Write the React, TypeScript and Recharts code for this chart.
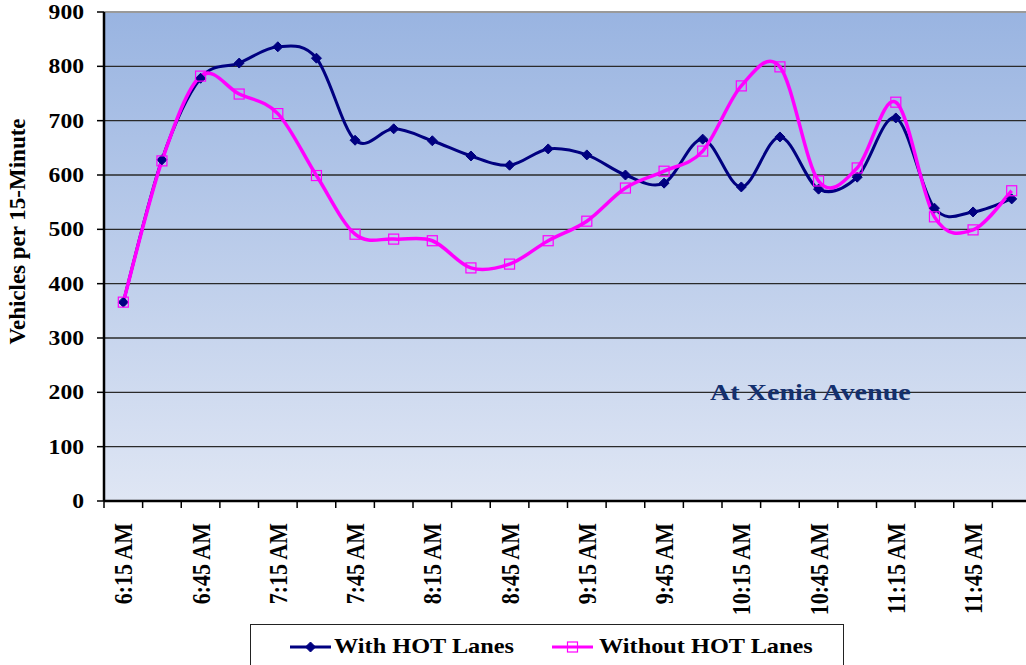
import React from 'react';
import { LineChart, Line, XAxis, YAxis, CartesianGrid, Legend, Label } from 'recharts';

const categories = ['6:15 AM','6:30 AM','6:45 AM','7:00 AM','7:15 AM','7:30 AM','7:45 AM','8:00 AM','8:15 AM','8:30 AM','8:45 AM','9:00 AM','9:15 AM','9:30 AM','9:45 AM','10:00 AM','10:15 AM','10:30 AM','10:45 AM','11:00 AM','11:15 AM','11:30 AM','11:45 AM','12:00 PM'];
const withHot = [366, 628, 778, 806, 836, 815, 664, 685, 663, 635, 618, 648, 637, 600, 585, 666, 578, 670, 574, 596, 705, 539, 532, 556];
const withoutHot = [366, 626, 782, 749, 713, 599, 491, 482, 479, 429, 436, 479, 515, 576, 607, 644, 764, 799, 589, 613, 734, 523, 499, 571];
const yTicks = [0, 100, 200, 300, 400, 500, 600, 700, 800, 900];
const seriesNames = ['With HOT Lanes', 'Without HOT Lanes'];
const annotation = 'At Xenia Avenue';
const yTitle = 'Vehicles per 15-Minute';

const data = categories.map((c, i) => ({ t: c, a: withHot[i], b: withoutHot[i] }));

const CHART_W = 1031;
const CHART_H = 665;
const M = { top: 12, right: 0, left: 0, bottom: 0 };
const Y_W = 104;
const X_H = 164;
const BAND = (CHART_W - M.left - M.right - Y_W) / categories.length;
const SERIF = '"Liberation Serif", "Times New Roman", Times, serif';
const NAVY = '#000080';
const MAGENTA = '#FF00FF';
const SX = 1.18;

// Excel-like smoothed curve (Catmull-Rom via cubic Bezier)
const excelCurve: any = (context: any) => {
  let xs: number[] = [];
  let ys: number[] = [];
  return {
    areaStart() {},
    areaEnd() {},
    lineStart() { xs = []; ys = []; },
    point(x: number, y: number) { xs.push(+x); ys.push(+y); },
    lineEnd() {
      const n = xs.length;
      if (!n) return;
      context.moveTo(xs[0], ys[0]);
      for (let i = 0; i < n - 1; i++) {
        const i0 = Math.max(0, i - 1);
        const i3 = Math.min(n - 1, i + 2);
        const c1x = xs[i] + (xs[i + 1] - xs[i0]) / 6;
        const c1y = ys[i] + (ys[i + 1] - ys[i0]) / 6;
        const c2x = xs[i + 1] - (xs[i3] - xs[i]) / 6;
        const c2y = ys[i + 1] - (ys[i3] - ys[i]) / 6;
        context.bezierCurveTo(c1x, c1y, c2x, c2y, xs[i + 1], ys[i + 1]);
      }
    },
  };
};

const Diamond = ({ cx, cy, r = 5, fill = NAVY }: any) => (
  <polygon points={`${cx},${cy - r} ${cx + r},${cy} ${cx},${cy + r} ${cx - r},${cy}`} fill={fill} stroke={fill} strokeWidth={1} />
);
const Square = ({ cx, cy, s = 10 }: any) => (
  <rect x={cx - s / 2} y={cy - s / 2} width={s} height={s} fill="none" stroke={MAGENTA} strokeWidth={1.2} />
);

const YTick = (props: any) => {
  const { x, y, payload } = props;
  return (
    <g transform={`translate(${x},${y}) scale(${SX},1)`}>
      <text x={0} y={0} dy="0.35em" textAnchor="end" fontFamily={SERIF} fontWeight="bold" fontSize={20} fill="#000">
        {payload.value}
      </text>
    </g>
  );
};

const XTick = (props: any) => {
  const { x, payload } = props;
  const top = CHART_H - X_H;
  return (
    <g>
      <line x1={x - BAND / 2} x2={x - BAND / 2} y1={top} y2={top + 7} stroke="#000" strokeWidth={1.5} />
      <line x1={x + BAND / 2} x2={x + BAND / 2} y1={top} y2={top + 7} stroke="#000" strokeWidth={1.5} />
      <g transform={`translate(${x},${top + 22}) scale(${SX},1) rotate(-90)`}>
        <text x={0} y={0} dy="0.35em" textAnchor="end" fontFamily={SERIF} fontWeight="bold" fontSize={22} fill="#000">
          {payload.value}
        </text>
      </g>
    </g>
  );
};

const gridLine = (props: any) => {
  const { x1, x2, y1, y2, index } = props;
  const isTop = y1 < M.top + 3;
  return (
    <line key={`h-${index}`} x1={x1} x2={x2} y1={y1} y2={y2} stroke={isTop ? '#9a9a9a' : '#2a2a2a'} strokeWidth={isTop ? 2 : 1.3} />
  );
};

const legendText: React.CSSProperties = {
  position: 'absolute', top: 9, fontFamily: SERIF, fontWeight: 'bold', fontSize: 21.5, lineHeight: '24px',
  whiteSpace: 'nowrap', color: '#000', transform: 'scaleX(1.13)', transformOrigin: 'left center',
};

const LegendContent = () => (
  <div style={{ position: 'relative', width: 594, height: 50, boxSizing: 'border-box', border: '1px solid #222', background: '#fff' }}>
    <svg width={50} height={20} style={{ position: 'absolute', left: 39, top: 12 }}>
      <line x1={0} x2={41} y1={10} y2={10} stroke={NAVY} strokeWidth={3} />
      <Diamond cx={20.5} cy={10} r={5} />
    </svg>
    <span style={{ ...legendText, left: 83 }}>{seriesNames[0]}</span>
    <svg width={50} height={20} style={{ position: 'absolute', left: 301, top: 12 }}>
      <line x1={0} x2={41} y1={10} y2={10} stroke={MAGENTA} strokeWidth={3} />
      <rect x={15.5} y={5} width={10} height={10} fill="none" stroke={MAGENTA} strokeWidth={1.2} />
    </svg>
    <span style={{ ...legendText, left: 348 }}>{seriesNames[1]}</span>
  </div>
);

const YTitle = () => (
  <g transform={`translate(16.5,231.5) rotate(-90)`}>
    <text x={0} y={0} dy="0.35em" textAnchor="middle" fontFamily={SERIF} fontWeight="bold" fontSize={23} fill="#000">
      {yTitle}
    </text>
  </g>
);

export default function App() {
  return (
    <div style={{ position: 'absolute', left: 0, top: 0, width: 1026, height: 665, overflow: 'hidden', background: '#fff' }}>
      <LineChart width={CHART_W} height={CHART_H} data={data} margin={M}>
        <defs>
          <linearGradient id="plotBg" x1="0" y1="0" x2="0" y2="1">
            <stop offset="0%" stopColor="#99B4E1" />
            <stop offset="100%" stopColor="#DFE6F4" />
          </linearGradient>
        </defs>
        <CartesianGrid vertical={false} horizontal={gridLine} fill="url(#plotBg)" fillOpacity={1} />
        <XAxis
          dataKey="t"
          height={X_H}
          interval={1}
          padding={{ left: BAND / 2, right: BAND / 2 }}
          tickLine={false}
          axisLine={{ stroke: '#000', strokeWidth: 2.5 }}
          tick={<XTick />}
        />
        <YAxis
          width={Y_W}
          domain={[0, 900]}
          ticks={yTicks}
          interval={0}
          tickSize={7}
          tickMargin={13}
          tickLine={{ stroke: '#000', strokeWidth: 1.5 }}
          axisLine={{ stroke: '#000', strokeWidth: 2.5 }}
          tick={<YTick />}
        >
          <Label content={<YTitle />} />
        </YAxis>
        <Line
          dataKey="a"
          name={seriesNames[0]}
          type={excelCurve}
          stroke={NAVY}
          strokeWidth={3}
          dot={(p: any) => <Diamond key={`da-${p.index}`} cx={p.cx} cy={p.cy} r={5} />}
          activeDot={false}
          isAnimationActive={false}
        />
        <Line
          dataKey="b"
          name={seriesNames[1]}
          type={excelCurve}
          stroke={MAGENTA}
          strokeWidth={3.5}
          dot={(p: any) => <Square key={`db-${p.index}`} cx={p.cx} cy={p.cy} s={10} />}
          activeDot={false}
          isAnimationActive={false}
        />
        <Legend
          layout="horizontal"
          verticalAlign="middle"
          align="center"
          content={<LegendContent />}
          wrapperStyle={{ left: 250, top: 624, width: 594, height: 50 }}
        />
      </LineChart>
      <div style={{ position: 'absolute', left: 710, top: 380, fontFamily: SERIF, fontWeight: 'bold', fontSize: 24, lineHeight: '24px', whiteSpace: 'nowrap', color: '#14306E', transform: 'scaleX(1.17)', transformOrigin: 'left center' }}>
        {annotation}
      </div>
    </div>
  );
}
